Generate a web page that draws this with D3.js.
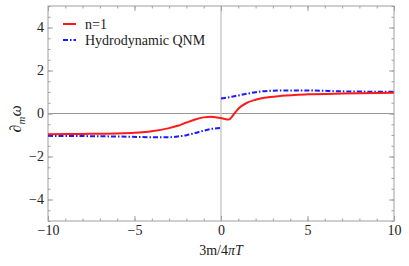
<!DOCTYPE html>
<html>
<head>
<meta charset="utf-8">
<script src="https://cdn.jsdelivr.net/npm/d3@7"></script>
<style>
  html, body { margin: 0; padding: 0; background: #fff; }
  svg text { font-family: "DejaVu Serif", "Liberation Serif", serif; }
</style>
</head>
<body>
<div id="chart"></div>
<script>
// n=1 mode
const redX = [-10, -8, -6, -5, -4, -3, -2.5, -2, -1.5, -1, -0.6, -0.3, 0, 0.2, 0.45, 0.7, 1.0, 1.5, 2, 2.5, 3.5, 5, 7, 10];
const redY = [-0.96, -0.95, -0.93, -0.9, -0.83, -0.68, -0.57, -0.42, -0.28, -0.18, -0.15, -0.17, -0.21, -0.25, -0.28, -0.08, 0.22, 0.5, 0.64, 0.73, 0.82, 0.89, 0.93, 0.96];

// hydrodynamic QNM, two branches (jump at 0)
const blueLeftX = [-10, -8, -6, -4, -3, -2.5, -2, -1.5, -1, -0.5, 0];
const blueLeftY = [-1.04, -1.05, -1.07, -1.1, -1.1, -1.07, -1.01, -0.91, -0.8, -0.71, -0.67];
const blueRightX = [0, 0.5, 1, 1.5, 2, 2.5, 3.5, 5, 7, 10];
const blueRightY = [0.7, 0.76, 0.84, 0.92, 0.99, 1.04, 1.07, 1.07, 1.03, 1.01];

const xTicks = [-10, -5, 0, 5, 10];
const yTicks = [-4, -2, 0, 2, 4];
const legendLabels = ["n=1", "Hydrodynamic QNM"];

const W = 409, H = 266;
const m = { top: 6, right: 15, bottom: 45, left: 48 };
const w = W - m.left - m.right;
const h = H - m.top - m.bottom;
const serif = "'Liberation Serif', 'DejaVu Serif', serif";

const svg = d3.select("#chart").append("svg")
    .attr("width", W).attr("height", H);
const g = svg.append("g").attr("transform", `translate(${m.left},${m.top})`);

const x = d3.scaleLinear().domain([-10, 10]).range([0, w]);
const y = d3.scaleLinear().domain([-5, 5]).range([h, 0]);

const frameCol = "#a0a0a0";

// zero lines
g.append("line")
    .attr("x1", 0).attr("x2", w).attr("y1", y(0)).attr("y2", y(0))
    .attr("stroke", "#999").attr("stroke-width", 1);
g.append("line")
    .attr("x1", x(0)).attr("x2", x(0)).attr("y1", 0).attr("y2", h)
    .attr("stroke", "#cfcfcf").attr("stroke-width", 1.6);

// axes (ticks point inward, mathematica style)
function styleAxis(sel) {
    sel.attr("font-family", serif);
    sel.select(".domain").remove();
    sel.selectAll("line").attr("stroke", frameCol);
    sel.selectAll("text").attr("fill", "#222").style("font-size", "14px")
        .style("font-family", serif);
}
const xMinor = d3.range(-10, 10.01, 1);
const yMinor = d3.range(-5, 5.01, 0.5);

g.append("g").attr("transform", `translate(0,${h})`)
    .call(d3.axisBottom(x).tickValues(xMinor).tickSize(-2.5).tickFormat(""))
    .call(styleAxis);
g.append("g").attr("transform", `translate(0,${h})`)
    .call(d3.axisBottom(x).tickValues(xTicks).tickSize(-5).tickPadding(4))
    .call(styleAxis);
g.append("g")
    .call(d3.axisTop(x).tickValues(xMinor).tickSize(-2.5).tickFormat(""))
    .call(styleAxis);
g.append("g")
    .call(d3.axisTop(x).tickValues(xTicks).tickSize(-5).tickFormat(""))
    .call(styleAxis);

g.append("g")
    .call(d3.axisLeft(y).tickValues(yMinor).tickSize(-2.5).tickFormat(""))
    .call(styleAxis);
g.append("g")
    .call(d3.axisLeft(y).tickValues(yTicks).tickSize(-5).tickPadding(4))
    .call(styleAxis);
g.append("g").attr("transform", `translate(${w},0)`)
    .call(d3.axisRight(y).tickValues(yMinor).tickSize(-2.5).tickFormat(""))
    .call(styleAxis);
g.append("g").attr("transform", `translate(${w},0)`)
    .call(d3.axisRight(y).tickValues(yTicks).tickSize(-5).tickFormat(""))
    .call(styleAxis);

// frame
g.append("rect").attr("width", w).attr("height", h)
    .attr("fill", "none").attr("stroke", frameCol).attr("stroke-width", 1);

// curves
const line = d3.line().x(d => x(d[0])).y(d => y(d[1])).curve(d3.curveMonotoneX);
const zip = (a, b) => a.map((v, i) => [v, b[i]]);

const plot = g.append("g");
const blueDash = "5,2,1.5,2";
plot.append("path").datum(zip(blueLeftX, blueLeftY))
    .attr("fill", "none").attr("stroke", "#1a1aff").attr("stroke-width", 2)
    .attr("stroke-dasharray", blueDash).attr("d", line);
plot.append("path").datum(zip(blueRightX, blueRightY))
    .attr("fill", "none").attr("stroke", "#1a1aff").attr("stroke-width", 2)
    .attr("stroke-dasharray", blueDash).attr("d", line);
plot.append("path").datum(zip(redX, redY))
    .attr("fill", "none").attr("stroke", "#ff1a1a").attr("stroke-width", 2)
    .attr("d", line);

// legend
const legend = svg.append("g").attr("transform", "translate(63,24)");
const legendItems = [
    { label: legendLabels[0], color: "#ff1a1a", dash: null },
    { label: legendLabels[1], color: "#1a1aff", dash: blueDash }
];
legendItems.forEach((d, i) => {
    const row = legend.append("g").attr("transform", `translate(0,${i * 16})`);
    row.append("line").attr("x1", 0).attr("x2", 13).attr("y1", 0).attr("y2", 0)
        .attr("stroke", d.color).attr("stroke-width", 2)
        .attr("stroke-dasharray", d.dash);
    row.append("text").attr("x", 22).attr("y", 4.5)
        .style("font-family", serif)
        .style("font-size", "14px").attr("fill", "#222").text(d.label);
});

// axis labels
const xl = svg.append("text")
    .attr("x", m.left + x(0)).attr("y", 255)
    .style("font-family", serif)
    .attr("text-anchor", "middle").style("font-size", "14px").attr("fill", "#222");
xl.append("tspan").text("3m/4");
xl.append("tspan").style("font-style", "italic").text("πT");

const yl = svg.append("text")
    .attr("transform", `translate(21,${m.top + y(-0.25)}) rotate(-90)`)
    .style("font-family", serif)
    .attr("text-anchor", "middle").style("font-size", "16px").attr("fill", "#222");
yl.append("tspan").text("∂");
yl.append("tspan").style("font-style", "italic").style("font-size", "11px")
    .attr("dy", 4).text("m");
yl.append("tspan").style("font-style", "italic").attr("dy", -4).text("ω");
</script>
</body>
</html>
